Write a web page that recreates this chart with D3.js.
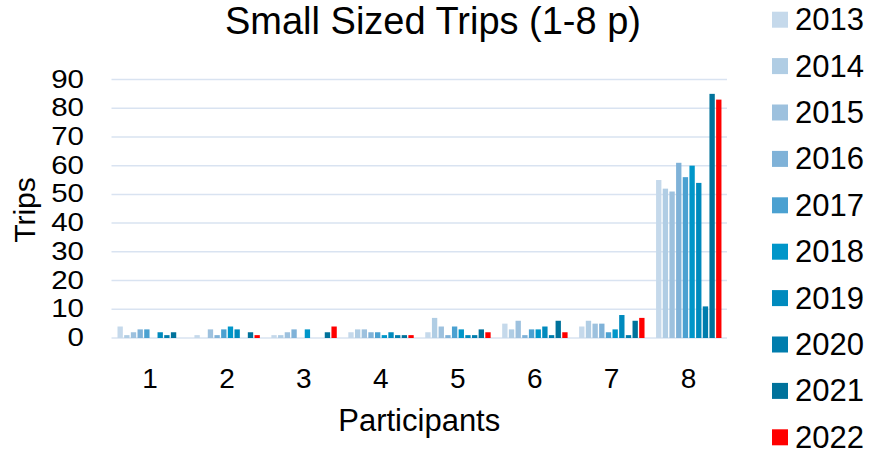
<!DOCTYPE html>
<html>
<head>
<meta charset="utf-8">
<script src="https://cdn.jsdelivr.net/npm/d3@7"></script>
<style>
  html, body { margin: 0; padding: 0; background: #fff; }
  svg { display: block; font-family: "Liberation Sans", Arial, sans-serif; }
</style>
</head>
<body>
<svg id="chart" width="883" height="455"></svg>
<script>
const categories = ["1", "2", "3", "4", "5", "6", "7", "8"];
const years = ["2013", "2014", "2015", "2016", "2017", "2018", "2019", "2020", "2021", "2022"];
const v2013 = [4, 1, 1, 2, 2, 5, 4, 55];
const v2014 = [1, 0, 1, 3, 7, 3, 6, 52];
const v2015 = [2, 3, 2, 3, 4, 6, 5, 51];
const v2016 = [3, 1, 3, 2, 1, 1, 5, 61];
const v2017 = [3, 3, 0, 2, 4, 3, 2, 56];
const v2018 = [0, 4, 3, 1, 3, 3, 3, 60];
const v2019 = [2, 3, 0, 2, 1, 4, 8, 54];
const v2020 = [1, 0, 0, 1, 1, 1, 1, 11];
const v2021 = [2, 2, 2, 1, 3, 6, 6, 85];
const v2022 = [0, 1, 4, 1, 2, 2, 7, 83];
const yTicks = [0, 10, 20, 30, 40, 50, 60, 70, 80, 90];
const colors = ["#c5d9eb", "#b0cde4", "#9dc1de", "#7fb2d8", "#4ba1d1", "#0096c9", "#008abd", "#007dad", "#00729b", "#ff0000"];
const titleText = "Small Sized Trips (1-8 p)";
const xTitle = "Participants";
const yTitle = "Trips";

const seriesValues = [v2013, v2014, v2015, v2016, v2017, v2018, v2019, v2020, v2021, v2022];
const series = years.map((y, i) => ({ year: y, color: colors[i], values: seriesValues[i] }));

const svg = d3.select("#chart");
const plotLeft = 111.5, plotRight = 727, plotTop = 79.5, plotBottom = 338;

const x0 = d3.scaleBand().domain(categories).range([plotLeft, plotRight]).padding(0);
const x1 = d3.scaleBand().domain(years).range([6, 71.4]).paddingInner(0.2).paddingOuter(0);
const y = d3.scaleLinear().domain([0, 90]).range([plotBottom, plotTop]);

// gridlines
svg.append("g").selectAll("line").data(yTicks).join("line")
  .attr("x1", plotLeft).attr("x2", plotRight)
  .attr("y1", d => y(d)).attr("y2", d => y(d))
  .attr("stroke", "#d9e3f1").attr("stroke-width", 1.5);

// bars
const groups = svg.append("g").selectAll("g").data(series).join("g")
  .attr("fill", d => d.color);
groups.selectAll("rect").data(d => d.values.map((v, i) => ({ cat: categories[i], v, year: d.year })))
  .join("rect")
  .attr("x", d => x0(d.cat) + x1(d.year))
  .attr("width", x1.bandwidth())
  .attr("y", d => y(d.v))
  .attr("height", d => plotBottom - y(d.v));

// y axis labels
const yAxis = d3.axisLeft(y).tickValues(yTicks).tickSize(0).tickPadding(0);
const yg = svg.append("g").attr("transform", `translate(84,0)`).call(yAxis);
yg.select(".domain").remove();
yg.selectAll("text").attr("font-size", 25).attr("fill", "#000")
  .attr("font-family", "Liberation Sans, Arial, sans-serif")
  .attr("x", 0).attr("dy", "0.3em").attr("transform", "scale(1.18,1)");

// x axis labels
const xAxis = d3.axisBottom(x0).tickSize(0).tickPadding(0);
const xg = svg.append("g").attr("transform", `translate(0,${plotBottom})`).call(xAxis);
xg.select(".domain").remove();
xg.selectAll("text").attr("font-size", 28).attr("fill", "#000")
  .attr("font-family", "Liberation Sans, Arial, sans-serif").attr("dy", null).attr("y", 50);

// titles
svg.append("text").attr("x", 433).attr("y", 34).attr("text-anchor", "middle")
  .attr("font-size", 38).text(titleText);
svg.append("text").attr("x", (plotLeft + plotRight) / 2).attr("y", 431).attr("text-anchor", "middle")
  .attr("font-size", 31).text(xTitle);
svg.append("text").attr("transform", "translate(35,210) rotate(-90)").attr("text-anchor", "middle")
  .attr("font-size", 30).text(yTitle);

// legend
const leg = svg.append("g").selectAll("g").data(series).join("g")
  .attr("transform", (d, i) => `translate(772,${11.7 + i * 46.4})`);
leg.append("rect").attr("width", 16).attr("height", 16).attr("fill", d => d.color);
leg.append("text").attr("x", 23).attr("y", 18.5).attr("font-size", 31).text(d => d.year);
</script>
</body>
</html>
